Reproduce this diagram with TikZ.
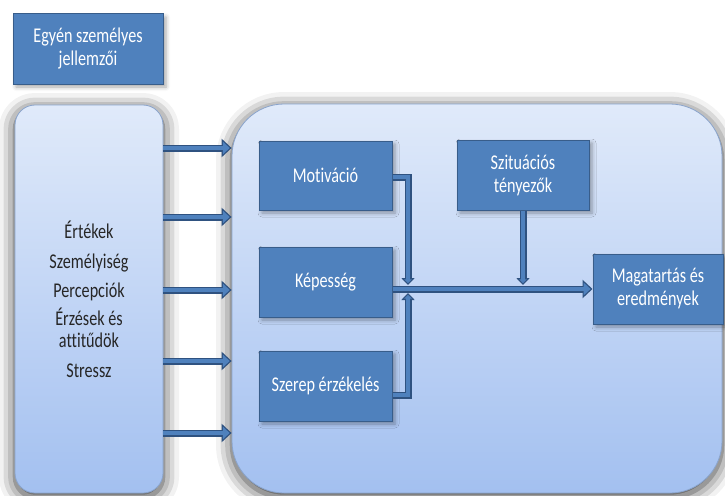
\documentclass[tikz,border=0pt]{standalone}
\usepackage{fontspec}
\setmainfont{Carlito}[FakeStretch=0.77, Ligatures={NoCommon,NoRequired,NoContextual}]
\usetikzlibrary{arrows.meta,shadows.blur}

\definecolor{boxblue}{HTML}{4F81BD}
\definecolor{boxedge}{HTML}{385D8A}
\definecolor{arrowedge}{HTML}{2F5280}
\definecolor{paletop}{HTML}{E0EAFA}
\definecolor{palebot}{HTML}{A3C0F0}
\definecolor{paleedge}{HTML}{8AA4CC}

\tikzset{
  bluebox/.style={draw=boxedge, line width=1pt, fill=boxblue, text=white,
    align=center, inner sep=0pt,
    font=\fontsize{21}{23}\selectfont,
    blur shadow={shadow xshift=3pt, shadow yshift=-3pt, shadow blur radius=4pt, shadow opacity=35}},
  panel/.style={draw=paleedge, line width=0.8pt, top color=paletop, bottom color=palebot,
    inner sep=0pt, align=center,
    blur shadow={shadow xshift=0pt, shadow yshift=-4pt, shadow blur radius=16pt, shadow opacity=80}},
  fatouter/.style={line width=7pt, draw=arrowedge, line join=miter,
    -{Triangle[width=18pt,length=10pt]}},
  fatinner/.style={line width=4.5pt, draw=boxblue, line join=miter,
    -{Triangle[width=12.4pt,length=6.9pt]}, shorten >=1.9pt},
  slimouter/.style={line width=7pt, draw=arrowedge, line join=miter,
    -{Triangle[width=13pt,length=7pt]}},
  sliminner/.style={line width=4.5pt, draw=boxblue, line join=miter,
    -{Triangle[width=7.3pt,length=3.9pt]}, shorten >=1.8pt},
}
% thick outlined arrows: dark outline pass, then blue fill pass
\newcommand\fatlink[1]{\draw[fatouter] #1; \draw[fatinner] #1;}
\newcommand\slimlink[1]{\draw[slimouter] #1; \draw[sliminner] #1;}

\begin{document}
\begin{tikzpicture}[x=1pt,y=-1pt]
\useasboundingbox (0,0) rectangle (725,495);

% title box
\node[bluebox, minimum width=150pt, minimum height=70pt] (title) at (88,49)
  {Egyén személyes\\jellemzői};

% left panel with the individual traits
\node[panel, rounded corners=20pt, minimum width=148pt, minimum height=388pt,
  font=\fontsize{21}{22}\selectfont, text=black!85] (traits) at (89,299)
  {Értékek\\[8pt]Személyiség\\[7pt]Percepciók\\[6pt]Érzések és\\attitűdök\\[8pt]Stressz};

% main panel
\node[panel, rounded corners=52pt, minimum width=490pt, minimum height=389pt] (core) at (477,298.5) {};

% inner boxes
\node[bluebox, minimum width=133pt, minimum height=69pt] (mot) at (325.5,175.5) {Motiváció};
\node[bluebox, minimum width=133pt, minimum height=70pt] (kep) at (325.5,282) {Képesség};
\node[bluebox, minimum width=133pt, minimum height=70pt] (ser) at (325.5,386) {Szerep érzékelés};
\node[bluebox, minimum width=132pt, minimum height=70pt] (szit) at (523,175) {Szituációs\\tényezők};
\node[bluebox, minimum width=130pt, minimum height=70pt] (mag) at (658,289) {Magatartás és\\eredmények};

% junction on the main line
\coordinate (hubtop) at (408,285);
\coordinate (hubbot) at (408,293);

% arrows from the traits panel into the main panel
\fatlink{(traits.east |- 0,148) -- (core.west |- 0,148)}
\fatlink{(traits.east |- 0,217) -- (core.west |- 0,217)}
\fatlink{(traits.east |- 0,290) -- (core.west |- 0,290)}
\fatlink{(traits.east |- 0,361) -- (core.west |- 0,361)}
\fatlink{(traits.east |- 0,433) -- (core.west |- 0,433)}

% inputs joining the main line
\slimlink{([yshift=-1.5pt]mot.east) -| (hubtop)}
\slimlink{([yshift=-9pt]ser.east) -| (hubbot)}
\slimlink{(szit.south) -- (szit.south |- hubtop)}

% main line to the outcome
\fatlink{(kep.east |- mag.west) -- (mag.west)}
\end{tikzpicture}
\end{document}
